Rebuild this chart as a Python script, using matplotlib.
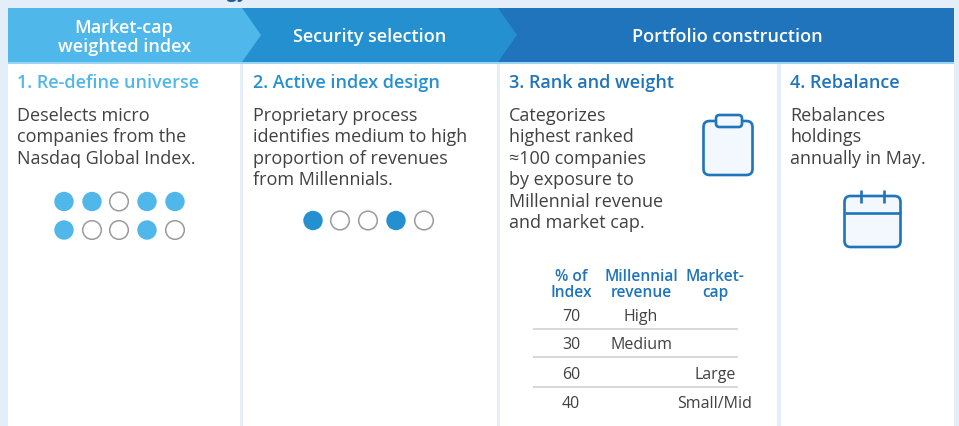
import matplotlib
matplotlib.use('Agg')
import matplotlib.pyplot as plt
from matplotlib.patches import Rectangle, Polygon, Circle, FancyBboxPatch

plt.rcParams['font.family'] = ['Open Sans', 'DejaVu Sans']

# colours
BG = '#E4EEF8'
LIGHT = '#50B7EA'
MID = '#2490D0'
DARK = '#1F74BC'
TEXT = '#414141'

# texts
stages = ['Market-cap\nweighted index', 'Security selection', 'Portfolio construction']
headings = ['1. Re-define universe', '2. Active index design', '3. Rank and weight', '4. Rebalance']
body1 = ['Deselects micro', 'companies from the', 'Nasdaq Global Index.']
body2 = ['Proprietary process', 'identifies medium to high', 'proportion of revenues', 'from Millennials.']
body3 = ['Categorizes', 'highest ranked', '≈100 companies', 'by exposure to', 'Millennial revenue', 'and market cap.']
body4 = ['Rebalances', 'holdings', 'annually in May.']

# dots, 1 = filled
dots1_top = [1, 1, 0, 1, 1]
dots1_bottom = [1, 0, 0, 1, 0]
dots2 = [1, 0, 0, 1, 0]

# table
col_heads = ['% of\nIndex', 'Millennial\nrevenue', 'Market-\ncap']
pct_index = ['70', '30', '60', '40']
revenue = ['High', 'Medium', '', '']
market_cap = ['', '', 'Large', 'Small/Mid']

fig = plt.figure(figsize=(9.59, 4.27), dpi=100, facecolor=BG)
ax = fig.add_axes([0, 0, 1, 1])
ax.set_xlim(0, 959)
ax.set_ylim(427, 0)
ax.axis('off')

# white panels
for x0, x1 in [(8, 240), (243, 497), (500, 777), (781, 954)]:
    ax.add_patch(Rectangle((x0, 64), x1 - x0, 364, fc='white', ec='none'))

# header chevrons, back to front
ax.add_patch(Rectangle((8, 9), 946, 54, fc=DARK, ec='none'))
ax.add_patch(Polygon([(8, 9), (498, 9), (517, 36), (498, 63), (8, 63)], fc=MID, ec='none'))
ax.add_patch(Polygon([(8, 9), (242, 9), (261, 36), (242, 63), (8, 63)], fc=LIGHT, ec='none'))
ax.add_patch(Rectangle((8, 63), 946, 2, fc='#9BD3F3', ec='none'))

for x, s in zip([124, 370, 727], stages):
    ax.text(x, 37.5, s, color='white', fontsize=13, fontweight='semibold',
            ha='center', va='center', linespacing=1.05)

# title fragment cut by the top edge
ax.text(247, -2, 'Strategy', color='#1F5C99', fontsize=13, fontweight='bold', ha='right', va='baseline')

for x, s, c in zip([17, 253, 509, 790], headings, [LIGHT, MID, DARK, DARK]):
    ax.text(x, 83, s, color=c, fontsize=13, fontweight='semibold', va='center')

line_y = [116, 137.5, 159, 180.5, 202, 223]
for x, lines in zip([17, 253, 509, 790], [body1, body2, body3, body4]):
    for y, s in zip(line_y, lines):
        ax.text(x, y, s, color=TEXT, fontsize=13, va='center')


def draw_dots(xs, y, flags, color):
    for x, f in zip(xs, flags):
        if f:
            ax.add_patch(Circle((x, y), 9.7, fc=color, ec='none'))
        else:
            ax.add_patch(Circle((x, y), 9.3, fc='white', ec='#9A9A9A', lw=1.1))


xs1 = [64, 92, 119, 147, 175]
xs2 = [313, 340, 368, 396, 424]
draw_dots(xs1, 202.5, dots1_top, LIGHT)
draw_dots(xs1, 231, dots1_bottom, LIGHT)
draw_dots(xs2, 221.5, dots2, MID)

# clipboard icon
ax.add_patch(FancyBboxPatch((703.5, 122), 49, 54, boxstyle='round,pad=0,rounding_size=6',
                            fc='#F2F8FE', ec=DARK, lw=1.9))
ax.add_patch(FancyBboxPatch((716, 116), 26, 12, boxstyle='round,pad=0,rounding_size=3.5',
                            fc='#F2F8FE', ec=DARK, lw=1.9))

# calendar icon
ax.add_patch(FancyBboxPatch((844.5, 197), 56, 51, boxstyle='round,pad=0,rounding_size=6',
                            fc='#F2F8FE', ec=DARK, lw=1.9))
ax.plot([844.5, 900.5], [214, 214], color=DARK, lw=1.9, solid_capstyle='butt')
ax.plot([861, 861], [191, 204], color=DARK, lw=1.9, solid_capstyle='butt')
ax.plot([884, 884], [191, 204], color=DARK, lw=1.9, solid_capstyle='butt')

# table
for x, s in zip([571, 641, 715], col_heads):
    ax.text(x, 285.5, s, color=DARK, fontsize=11.2, fontweight='semibold',
            ha='center', va='center', linespacing=1.0)
for y in [329.5, 357.5, 387.5]:
    ax.plot([533, 738], [y, y], color='#D2D2D2', lw=1.2, solid_capstyle='butt')
for y, p, r, m in zip([317, 345, 375, 404], pct_index, revenue, market_cap):
    ax.text(571, y, p, color=TEXT, fontsize=11.5, ha='center', va='center')
    ax.text(641, y, r, color=TEXT, fontsize=11.5, ha='center', va='center')
    ax.text(715, y, m, color=TEXT, fontsize=11.5, ha='center', va='center')

fig.savefig('out.png', dpi=100, facecolor=BG)
